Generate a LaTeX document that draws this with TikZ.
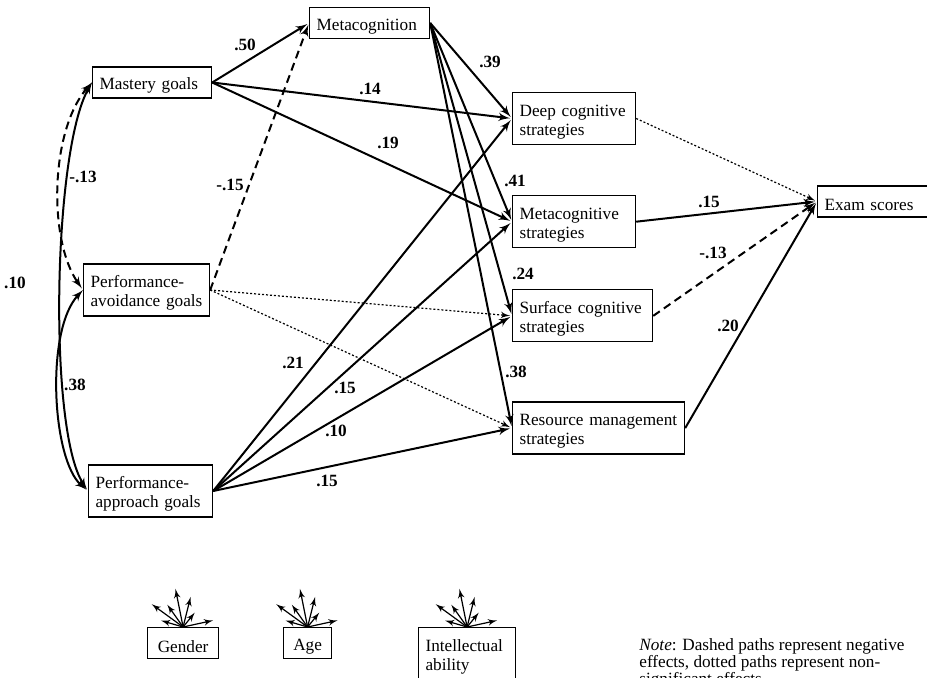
\documentclass[tikz,border=0pt]{standalone}
\usepackage{fontspec}
\setmainfont{Liberation Serif}
\usetikzlibrary{arrows}
\usetikzlibrary{positioning}

\begin{document}
\fontsize{8.6}{9.5}\selectfont
\begin{tikzpicture}[>=latex',shorten >=1pt,x=0.5pt,y=-0.5pt,
                    box/.style={draw,line width=0.6pt,align=left,inner xsep=3.5pt,
                                inner ysep=2pt,minimum height=15.5pt,text width=#1,
                                execute at begin node={\rule{0pt}{9pt}}},
                    tall/.style={minimum height=26pt},
                    coef/.style={font=\bfseries,inner sep=1pt},
                    eff/.style={->,line width=1pt},
                    cov/.style={<->,line width=1pt},
                    neg/.style={dash pattern=on 4pt off 2.5pt},
                    ns/.style={densely dotted,semithick},
                    fan/.style={->,semithick}]

  \useasboundingbox (0,0) rectangle (927,678);
  \clip (0,0) rectangle (927,678);

  % goals
  \node[box=52.5pt,anchor=west] (mastery) at (92,82.5) {Mastery goals};
  \node[box=56pt,tall,anchor=west] (avoid) at (83,290) {Performance-\\avoidance goals};
  \node[box=55pt,tall,anchor=west] (approach) at (88,491) {Performance-\\approach goals};
  \node[box=53pt,anchor=west] (metacog) at (309,23) {Metacognition};

  % strategies
  \node[box=54.5pt,tall,anchor=west] (deep) at (512,118.5) {Deep cognitive\\strategies};
  \node[box=54.5pt,tall,below=25pt of deep.south west,anchor=north west] (metastrat) {Metacognitive\\strategies};
  \node[box=63pt,tall,below=20.5pt of metastrat.south west,anchor=north west] (surface) {Surface cognitive\\strategies};
  \node[box=79pt,tall,below=29.5pt of surface.south west,anchor=north west] (resource) {Resource management\\strategies};
  \node[box=48pt,anchor=west] (exam) at (817,201.5) {Exam scores};

  % controls
  \node[box=28.5pt,align=center,anchor=north west] (gender) at (147,627) {Gender};
  \node[box=17pt,align=center,anchor=north west] (age) at (283,627) {Age};
  \node[box=41.5pt,tall,anchor=north west] (intel) at (418,627) {Intellectual\\ability};

  \node[anchor=north west,align=left,inner sep=0pt,font=\fontsize{8.6}{8.5}\selectfont] (note) at (639,638)
    {\textit{Note}: Dashed paths represent negative\\effects, dotted paths represent non-\\significant effects.};

  \path[eff]
    (mastery.east) edge (metacog.west)
                   edge (deep.west)
                   edge (metastrat.west)
    (metacog.east) edge (deep.west)
                   edge (metastrat.west)
                   edge (surface.west)
                   edge (resource.west)
    (approach.east) edge (deep.west)
                    edge (metastrat.west)
                    edge (surface.west)
                    edge (resource.west)
    (metastrat.east) edge (exam.west)
    (resource.east) edge (exam.west);
  \path[eff,neg]
    (avoid.east) edge (metacog.west)
    (surface.east) edge (exam.west);
  \path[eff,ns]
    (avoid.east) edge (surface.west)
                 edge (resource.west)
    (deep.east) edge (exam.west);

  \draw[cov,neg] (mastery.west) .. controls +(-42,47.5) and +(-35,-50) .. (avoid.west);
  \draw[cov] (mastery.west) .. controls +(-39,67.5) and +(-40,-61) .. (approach.west);
  \draw[cov] (avoid.west) .. controls +(-38,40) and +(-36,-31) .. (approach.west);

  \foreach \v in {gender,age,intel}
    \foreach \dx/\dy in {-33/-24,-24/-7,-17/-24,-8/-40,8/-32,13/-16,32/-7}
      \draw[fan] (\v.north) -- ++(\dx,\dy);

  % coefficients
  \node[coef] (c50) at (245,45) {.50};
  \node[coef] (c14) at (370,89) {.14};
  \node[coef] (c19) at (388,143) {.19};
  \node[coef] (c39) at (490,62) {.39};
  \node[coef] (c41) at (515,181) {.41};
  \node[coef] (c24) at (523,274) {.24};
  \node[coef] (c38r) at (516,372) {.38};
  \node[coef] (e15) at (709,202) {.15};
  \node[coef] (e13) at (713,253) {-.13};
  \node[coef] (e20) at (728,326) {.20};
  \node[coef] (r13) at (83,177) {-.13};
  \node[coef] (r10) at (15,283) {.10};
  \node[coef] (r38) at (75,385) {.38};
  \node[coef] (c15n) at (230,185) {-.15};
  \node[coef] (c21) at (293,363) {.21};
  \node[coef] (c15a) at (345,388) {.15};
  \node[coef] (c10) at (336,431) {.10};
  \node[coef] (c15b) at (327,481) {.15};
\end{tikzpicture}
\end{document}
